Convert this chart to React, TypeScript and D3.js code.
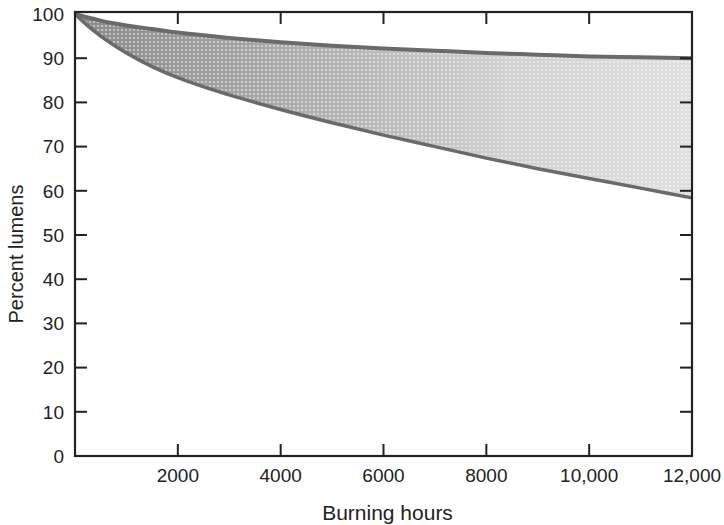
import React from "react";
import * as d3 from "d3";

const hours = [0, 250, 500, 750, 1000, 1500, 2000, 3000, 4000, 5000, 6000, 7000, 8000, 9000, 10000, 11000, 12000];
const upperPct = [100, 99.2, 98.5, 97.9, 97.4, 96.6, 95.8, 94.6, 93.6, 92.8, 92.2, 91.7, 91.2, 90.8, 90.4, 90.2, 90.0];
const lowerPct = [100, 97.3, 95.0, 93.0, 91.2, 88.1, 85.6, 81.7, 78.4, 75.4, 72.6, 70.0, 67.4, 65.0, 62.8, 60.6, 58.4];
const xTicks = [2000, 4000, 6000, 8000, 10000, 12000];
const xTickLabels = ["2000", "4000", "6000", "8000", "10,000", "12,000"];
const yTicks = [0, 10, 20, 30, 40, 50, 60, 70, 80, 90, 100];
const xLabel = "Burning hours";
const yLabel = "Percent lumens";

export default function App() {
  const W = 724, H = 525;
  const left = 75, right = 692, top = 12, bottom = 456;
  const x = d3.scaleLinear().domain([0, 12000]).range([left, right]);
  const y = d3.scaleLinear().domain([0, 100]).range([bottom, top + 2]);
  const data = hours.map((h, i) => ({ h, u: upperPct[i], l: lowerPct[i] }));
  const area = d3.area<any>().x(d => x(d.h)).y0(d => y(d.l)).y1(d => y(d.u)).curve(d3.curveMonotoneX);
  const lineU = d3.line<any>().x(d => x(d.h)).y(d => y(d.u)).curve(d3.curveMonotoneX);
  const lineL = d3.line<any>().x(d => x(d.h)).y(d => y(d.l)).curve(d3.curveMonotoneX);
  const tl = 12;
  const font = "'Liberation Sans', Arial, Helvetica, sans-serif";
  return (
    <svg width={W} height={H} style={{ position: "absolute", left: 0, top: 0, background: "#fff" }} fontFamily={font}>
      <defs>
        <linearGradient id="g" x1="0" x2="1" y1="0" y2="0" gradientUnits="objectBoundingBox">
          <stop offset="0" stopColor="#8a8a8a" />
          <stop offset="0.35" stopColor="#acacac" />
          <stop offset="0.7" stopColor="#d0d0d0" />
          <stop offset="1" stopColor="#e0e0e0" />
        </linearGradient>
        <pattern id="dots" width="4" height="4" patternUnits="userSpaceOnUse">
          <circle cx="2" cy="2" r="1.1" fill="#fff" opacity="0.55" />
        </pattern>
      </defs>
      <path d={area(data) || ""} fill="url(#g)" />
      <path d={area(data) || ""} fill="url(#dots)" />
      <path d={lineU(data) || ""} fill="none" stroke="#6a6a6a" strokeWidth={4} />
      <path d={lineL(data) || ""} fill="none" stroke="#6a6a6a" strokeWidth={3.5} />
      <rect x={left} y={top} width={right - left} height={bottom - top} fill="none" stroke="#222" strokeWidth={2.2} />
      {yTicks.filter(v => v > 0 && v < 100).map(v => (
        <g key={"y" + v}>
          <line x1={left} x2={left + tl} y1={y(v)} y2={y(v)} stroke="#222" strokeWidth={2} />
          <line x1={right - tl} x2={right} y1={y(v)} y2={y(v)} stroke="#222" strokeWidth={2} />
        </g>
      ))}
      {yTicks.map(v => (
        <text key={"yl" + v} x={64} y={y(v)} dy="0.36em" textAnchor="end" fontSize={19} fill="#222">{v}</text>
      ))}
      {xTicks.filter(v => v < 12000).map(v => (
        <g key={"x" + v}>
          <line x1={x(v)} x2={x(v)} y1={bottom} y2={bottom - tl} stroke="#222" strokeWidth={2} />
          <line x1={x(v)} x2={x(v)} y1={top} y2={top + tl} stroke="#222" strokeWidth={2} />
        </g>
      ))}
      {xTicks.map((v, i) => (
        <text key={"xl" + v} x={x(v)} y={482} textAnchor="middle" fontSize={19} fill="#222">{xTickLabels[i]}</text>
      ))}
      <text x={(left + right) / 2 + 4} y={520} textAnchor="middle" fontSize={21} fill="#222">{xLabel}</text>
      <text transform={`translate(23, 254) rotate(-90)`} textAnchor="middle" fontSize={20} fill="#222">{yLabel}</text>
    </svg>
  );
}
